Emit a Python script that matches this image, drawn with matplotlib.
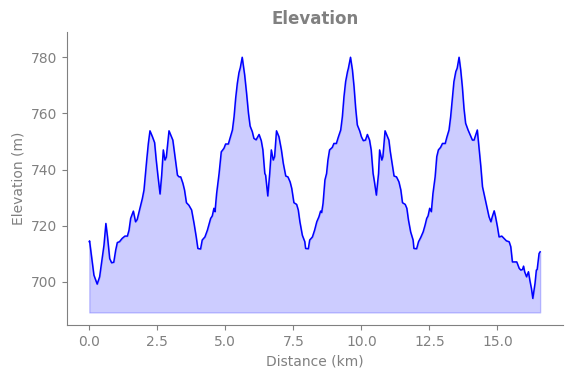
import matplotlib
matplotlib.use("Agg")
import matplotlib.pyplot as plt
import numpy as np

distance_km = [
    0.00, 0.01, 0.085, 0.17, 0.29, 0.38, 0.48, 0.54, 0.61, 0.67, 0.75, 0.82, 0.90, 0.97, 1.03,
    1.11, 1.21, 1.31, 1.40, 1.46, 1.52, 1.62, 1.70, 1.76, 1.86, 1.95, 2.01, 2.07, 2.11, 2.17,
    2.23, 2.32, 2.40, 2.46, 2.52, 2.60, 2.66, 2.72, 2.78, 2.83, 2.93, 3.01, 3.07, 3.15, 3.24,
    3.30, 3.36, 3.44, 3.50, 3.57, 3.66, 3.76, 3.85, 3.93, 3.99, 4.09, 4.15, 4.25, 4.34, 4.46,
    4.52, 4.58, 4.62, 4.68, 4.77, 4.85, 4.95, 5.01, 5.11, 5.19, 5.26, 5.32, 5.38, 5.44, 5.50,
    5.55, 5.62, 5.71, 5.78, 5.85, 5.91, 5.99, 6.05, 6.13, 6.24, 6.32, 6.38, 6.45, 6.48, 6.56,
    6.63, 6.69, 6.76, 6.81, 6.88, 6.97, 7.06, 7.13, 7.22, 7.30, 7.38, 7.44, 7.52, 7.62, 7.68,
    7.74, 7.83, 7.92, 7.95, 8.05, 8.10, 8.20, 8.28, 8.36, 8.44, 8.50, 8.54, 8.59, 8.66, 8.72,
    8.77, 8.83, 8.93, 8.99, 9.08, 9.15, 9.24, 9.30, 9.36, 9.42, 9.49, 9.52, 9.60, 9.67, 9.73,
    9.79, 9.85, 9.94, 10.00, 10.07, 10.15, 10.22, 10.30, 10.36, 10.43, 10.48, 10.55, 10.63, 10.67,
    10.75, 10.79, 10.87, 10.95, 11.01, 11.06, 11.11, 11.20, 11.29, 11.38, 11.45, 11.51, 11.61, 11.67,
    11.73, 11.81, 11.90, 11.93, 12.03, 12.10, 12.18, 12.27, 12.34, 12.40, 12.45, 12.51, 12.57, 12.63,
    12.71, 12.77, 12.83, 12.91, 12.98, 13.08, 13.14, 13.22, 13.28, 13.35, 13.40, 13.47, 13.52, 13.59,
    13.65, 13.71, 13.77, 13.83, 13.92, 14.00, 14.08, 14.14, 14.20, 14.26, 14.32, 14.39, 14.45, 14.53,
    14.61, 14.69, 14.76, 14.81, 14.88, 14.93, 15.00, 15.06, 15.16, 15.24, 15.33, 15.43, 15.49, 15.55,
    15.61, 15.71, 15.80, 15.86, 15.92, 15.96, 16.00, 16.07, 16.14, 16.19, 16.25, 16.30, 16.38, 16.43,
    16.46, 16.53, 16.57,
]

elevation_m = [
    714.3, 714.6, 708.9, 702.4, 699.2, 701.8, 708.9, 713.1, 720.8, 716.0, 708.3, 706.8, 707.0, 711.3, 714.0,
    714.3, 715.5, 716.3, 716.3, 718.4, 722.6, 725.2, 721.4, 722.2, 726.2, 729.7, 732.7, 739.2, 743.4, 749.3,
    753.8, 751.7, 749.6, 743.4, 738.0, 731.3, 738.0, 747.0, 743.4, 744.4, 753.8, 751.9, 750.5, 744.6, 738.0,
    737.4, 737.4, 735.1, 732.7, 728.2, 727.3, 725.6, 720.8, 716.0, 711.9, 711.7, 714.9, 716.0, 718.4, 722.6,
    723.5, 726.2, 725.0, 731.5, 738.6, 746.3, 747.6, 749.1, 749.1, 751.7, 754.1, 758.8, 765.5, 770.7, 774.5,
    776.3, 780.0, 773.7, 767.2, 760.0, 755.5, 753.5, 751.1, 750.6, 752.5, 750.3, 747.0, 738.6, 738.0, 730.6,
    738.6, 747.0, 743.4, 744.6, 753.8, 751.7, 747.0, 742.2, 737.7, 737.4, 735.6, 733.3, 728.2, 727.6, 725.6,
    721.4, 716.6, 714.3, 711.9, 711.8, 714.9, 716.0, 718.4, 721.4, 723.2, 725.2, 724.7, 727.9, 736.3, 738.6,
    743.4, 747.0, 747.9, 749.3, 749.3, 751.5, 754.1, 758.8, 766.0, 771.3, 774.9, 776.0, 780.0, 775.5, 769.5,
    761.8, 755.9, 753.7, 751.7, 750.3, 750.5, 752.5, 750.5, 747.0, 738.6, 735.6, 730.9, 738.6, 747.0,
    743.4, 744.6, 753.8, 751.9, 750.5, 746.5, 743.4, 737.7, 737.4, 735.6, 732.7, 728.2, 727.6, 726.2,
    722.0, 717.8, 714.9, 711.9, 711.8, 714.3, 715.8, 717.8, 720.2, 722.6, 723.5, 726.2, 725.0, 731.5,
    737.4, 744.6, 747.0, 747.9, 749.3, 749.3, 751.5, 754.1, 758.8, 766.0, 771.3, 774.9, 776.1, 780.0,
    775.5, 769.5, 761.8, 756.5, 754.1, 752.3, 750.5, 750.5, 752.3, 754.1, 748.1, 741.0, 733.9, 730.3,
    726.7, 723.2, 721.4, 723.2, 725.3, 723.2, 719.6, 716.0, 716.3, 715.5, 714.6, 714.3, 712.5, 707.1,
    707.1, 707.1, 704.8, 704.2, 704.4, 705.6, 703.6, 701.8, 703.6, 700.6, 697.6, 694.1, 699.4, 704.2,
    704.4, 710.1, 710.7,
]

x_ticks = [0.0, 2.5, 5.0, 7.5, 10.0, 12.5, 15.0]
y_ticks = [700, 720, 740, 760, 780]

gray = "#808080"
fig = plt.figure(figsize=(5.71, 3.78), dpi=100)
ax = fig.add_axes([0.1168, 0.140, 0.986 - 0.1168, 0.9146 - 0.140])

d = np.array(distance_km)
e = np.array(elevation_m)
base = e.min() - 5
ax.fill_between(d, e, base, color="blue", alpha=0.2)
ax.plot(d, e, color="blue", lw=1.1)

ax.set_xlim(-0.83, 17.41)
ax.set_ylim(684.6, 788.9)
ax.set_xticks(x_ticks)
ax.set_yticks(y_ticks)

for s in ["top", "right"]:
    ax.spines[s].set_visible(False)
for s in ["left", "bottom"]:
    ax.spines[s].set_color(gray)
ax.tick_params(colors=gray, labelsize=10)
ax.set_xlabel("Distance (km)", color=gray, fontsize=10)
ax.set_ylabel("Elevation (m)", color=gray, fontsize=10)
ax.set_title("Elevation", color=gray, fontsize=12, fontweight="bold")

fig.savefig("out.png", dpi=100)
